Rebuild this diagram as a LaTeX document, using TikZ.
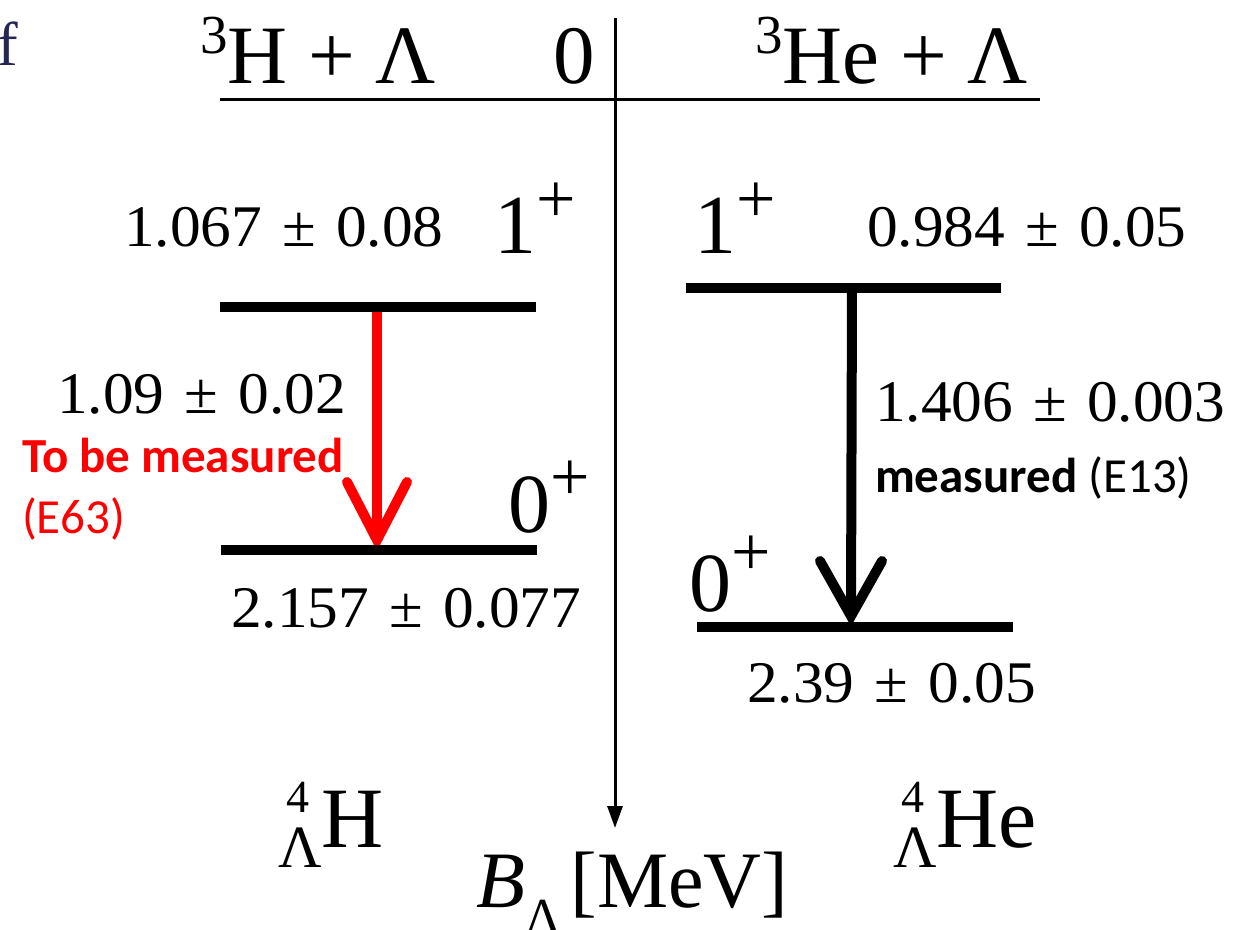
\documentclass[tikz,border=0pt]{standalone}
\usepackage{fontspec}
\setmainfont{Liberation Serif}
\newfontfamily\calib{Carlito}
\usepackage{graphicx}
\usetikzlibrary{arrows.meta,calc}
\definecolor{fnavy}{RGB}{38,38,84}
\newcommand\fs[1]{\fontsize{#1}{#1}\selectfont}
\newcommand\upx[3]{\raisebox{#2}{\fs{#1}#3}}
\newcommand\PM{\hspace{0.33em}±\hspace{0.33em}}
\newcommand\val[1]{\scalebox{1.04}[1]{\fs{59}#1}}
\begin{document}
\begin{tikzpicture}[x=1pt,y=-1pt,
  lbl/.style={inner sep=0pt, outer sep=0pt, anchor=base west},
  lev/.style={line width=10pt},
  axisline/.style={line width=3pt},
  shaft/.style={line width=10pt},
  barb/.style={line width=10pt, line cap=round, line join=miter}]
\useasboundingbox (0,0) rectangle (1234,929);

% partial letter
\node[lbl, text=fnavy] (f) at (-2,65) {\fs{62}f};

% top labels
\node[lbl] (hlam) at (200,83) {\fs{83}\upx{55}{30pt}{3}H + Λ};
\node[lbl] (zero) at (553,83) {\fs{83}0};
\node[lbl] (helam) at (755,83) {\fs{83}\upx{55}{30pt}{3}He + Λ};

% axes
\coordinate (tl) at (220,99);
\coordinate (tr) at (1040,99);
\coordinate (at) at (615,18);
\coordinate (ab) at (615,828);
\draw[axisline] (tl) -- (tr);
\draw[axisline, -{Triangle[length=22pt,width=15pt]}] (at) -- (ab);

% level coordinates
\coordinate (l1a) at (220,307);  \coordinate (l1b) at (536,307);
\coordinate (l0a) at (221,550);  \coordinate (l0b) at (537,550);
\coordinate (r1a) at (686,288);  \coordinate (r1b) at (1001,288);
\coordinate (r0a) at (697,627);  \coordinate (r0b) at (1013,627);

% red transition
\coordinate (rs) at (377,307);
\coordinate (rt) at (377,540);
\draw[red, shaft] (rs) -- ($(rt)+(0,-4)$);
\draw[red, barb] ($(rt)+(-30,-58)$) -- (rt) -- ($(rt)+(30,-58)$);

% black transition
\coordinate (bs) at (852,288);
\coordinate (bt) at (851,616);
\draw[shaft] (bs) -- ($(bt)+(0,-4)$);
\draw[barb] ($(bt)+(-31,-55)$) -- (bt) -- ($(bt)+(31,-55)$);

% levels
\draw[lev] (l1a) -- (l1b);
\draw[lev] (l0a) -- (l0b);
\draw[lev] (r1a) -- (r1b);
\draw[lev] (r0a) -- (r0b);

% spin labels
\node[lbl] (l1sp) at (494,253) {\fs{84}1\upx{70}{31pt}{+}};
\node[lbl] (r1sp) at (694,253) {\fs{84}1\upx{70}{31pt}{+}};
\node[lbl] (l0sp) at (508,532) {\fs{84}0\upx{70}{32pt}{+}};
\node[lbl] (r0sp) at (689,611) {\fs{84}0\upx{70}{36pt}{+}};

% energies
\node[lbl] (e1) at (124,246) {\val{1.067\PM0.08}};
\node[lbl] (e2) at (867,246) {\val{0.984\PM0.05}};
\node[lbl] (e3) at (57,413) {\val{1.09\PM0.02}};
\node[lbl] (e4) at (231,627) {\val{2.157\PM0.077}};
\node[lbl] (e5) at (875,421) {\val{1.406\PM0.003}};
\node[lbl] (e6) at (747,702) {\val{2.39\PM0.05}};

% measurement notes
\node[lbl, text=red] (tbm) at (22,472) {\calib\fs{49}\bfseries To be measured};
\node[lbl, text=red] (e63) at (22,533) {\calib\fs{49}(E63)};
\node[lbl] (e13) at (875,492) {\calib\fs{49}{\bfseries measured} (E13)};

% hypernuclei
\node[lbl] (hyH) at (278,847) {\fs{86}\makebox[0pt][l]{\hspace{8pt}\raisebox{35pt}{\fs{46}4}}\raisebox{-20pt}{\fs{60}Λ}H};
\node[lbl] (hyHe) at (893,847) {\fs{86}\makebox[0pt][l]{\hspace{8pt}\raisebox{35pt}{\fs{46}4}}\raisebox{-20pt}{\fs{60}Λ}He};

% axis label
\node[lbl] (bl) at (476,907) {\fs{80}\textit{B}\raisebox{-27pt}{\fs{52}Λ}\hspace{8pt}[MeV]};
\end{tikzpicture}
\end{document}
